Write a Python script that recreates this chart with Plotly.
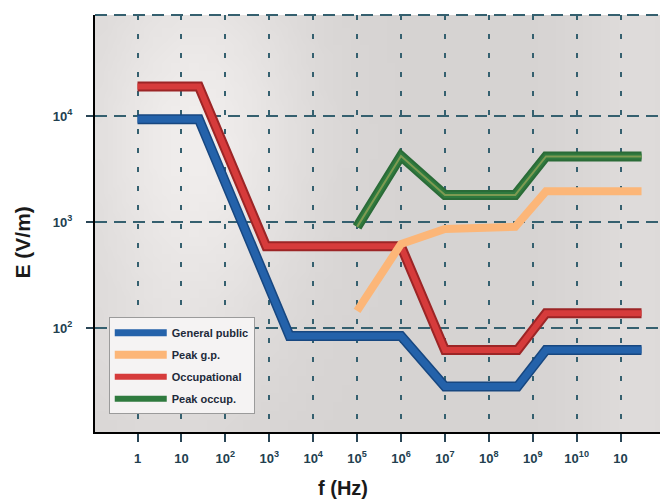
import base64, math, struct, zlib
import plotly.graph_objects as go

# ---------------- data ----------------
freq_gp = [1, 25, 2900, 1e6, 1e7, 4.5e8, 2e9, 3e11]
e_gp = [9300, 9300, 84, 84, 28, 28, 62, 62]

freq_occ = [1, 25, 850, 1e6, 1e7, 4.5e8, 2e9, 3e11]
e_occ = [19000, 19000, 590, 590, 62, 62, 138, 138]

freq_peak_gp = [1e5, 1e6, 1e7, 4e8, 2e9, 3e11]
e_peak_gp = [145, 620, 860, 900, 1950, 1950]

freq_peak_occ = [1e5, 1e6, 1e7, 4e8, 2e9, 3e11]
e_peak_occ = [900, 4200, 1800, 1800, 4150, 4150]

x_tickvals = [1e0, 1e1, 1e2, 1e3, 1e4, 1e5, 1e6, 1e7, 1e8, 1e9, 1e10, 1e11, 1e12]
x_ticktext = ["1", "10", "10<sup>2</sup>", "10<sup>3</sup>", "10<sup>4</sup>", "10<sup>5</sup>",
              "10<sup>6</sup>", "10<sup>7</sup>", "10<sup>8</sup>", "10<sup>9</sup>",
              "10<sup>10</sup>", "10", ""]
y_tickvals = [1e2, 1e3, 1e4]
y_ticktext = ["10<sup>2</sup>", "10<sup>3</sup>", "10<sup>4</sup>"]

# ---------------- background texture (soft grey gradient) ----------------
def make_png(w, h, fn):
    rows = []
    for j in range(h):
        row = bytearray([0])
        for i in range(w):
            row.extend(fn(i / (w - 1), j / (h - 1)))
        rows.append(bytes(row))
    raw = b"".join(rows)

    def chunk(t, d):
        return struct.pack(">I", len(d)) + t + d + struct.pack(">I", zlib.crc32(t + d) & 0xffffffff)

    return (b"\x89PNG\r\n\x1a\n" + chunk(b"IHDR", struct.pack(">IIBBBBB", w, h, 8, 2, 0, 0, 0))
            + chunk(b"IDAT", zlib.compress(raw)) + chunk(b"IEND", b""))


def bg(u, v):
    b = 211
    b += 27 * math.exp(-(((u - 0.17) / 0.2) ** 2 + ((v - 0.3) / 0.5) ** 2))
    b += 9 * math.exp(-(((u - 0.95) / 0.12) ** 2))
    b += 6 * math.exp(-(((u - 0.1) / 0.15) ** 2 + ((v - 0.85) / 0.2) ** 2))
    b = min(b, 242)
    return (int(min(255, b + 3)), int(b), int(b - 1))


png_uri = "data:image/png;base64," + base64.b64encode(make_png(64, 48, bg)).decode()

# ---------------- figure ----------------
FONT = "Liberation Sans, Arial, sans-serif"
fig = go.Figure()


def add_band(x, y, name, outer, inner, w_out, w_in, rank):
    fig.add_trace(go.Scatter(x=x, y=y, mode="lines", showlegend=False, hoverinfo="skip",
                             line=dict(color=outer, width=w_out)))
    fig.add_trace(go.Scatter(x=x, y=y, mode="lines", name=name, legendrank=rank,
                             legendgroup=name, line=dict(color=inner, width=w_in)))


add_band(freq_gp, e_gp, "General public", "#174780", "#2462aa", 10, 7, 1)
add_band(freq_occ, e_occ, "Occupational", "#9c2526", "#d63b3b", 10, 6, 3)
fig.add_trace(go.Scatter(x=freq_peak_gp, y=e_peak_gp, mode="lines", name="Peak g.p.",
                         legendrank=2, legendgroup="Peak g.p.",
                         line=dict(color="#fcb678", width=8)))
fig.add_trace(go.Scatter(x=freq_peak_occ, y=e_peak_occ, mode="lines", showlegend=False,
                         hoverinfo="skip", line=dict(color="#2a6b37", width=10)))
fig.add_trace(go.Scatter(x=freq_peak_occ, y=e_peak_occ, mode="lines", name="Peak occup.",
                         legendrank=4, legendgroup="Peak occup.",
                         line=dict(color="#2f7a3e", width=6)))
fig.add_trace(go.Scatter(x=freq_peak_occ, y=e_peak_occ, mode="lines", showlegend=False,
                         hoverinfo="skip", line=dict(color="#7d9a52", width=2)))

GRID = "#35606f"
# the page body adds an 8 px offset, so the figure is 8 px smaller than the window
fig.update_layout(
    width=660, height=493,
    margin=dict(l=87, r=0, t=7, b=69),
    paper_bgcolor="white",
    plot_bgcolor="rgba(0,0,0,0)",
    font=dict(family=FONT, color="#1f3848"),
    images=[dict(source=png_uri, xref="paper", yref="paper", x=0, y=1, sizex=1, sizey=1,
                 xanchor="left", yanchor="top", sizing="stretch", layer="below")],
    xaxis=dict(type="log", range=[-0.968, 12.08], tickmode="array", tickvals=x_tickvals,
               ticktext=x_ticktext, showgrid=True, gridcolor=GRID, gridwidth=2,
               griddash="5px,14px", showline=True, linecolor="black", linewidth=2,
               ticks="outside", ticklen=8, tickwidth=2, tickcolor="#2a4656",
               ticklabelstandoff=5,
               tickfont=dict(size=13, family=FONT, color="#22404f", weight="bold"),
               zeroline=False),
    yaxis=dict(type="log", range=[1.019, 4.953], tickmode="array", tickvals=y_tickvals,
               ticktext=y_ticktext, showgrid=True, gridcolor=GRID, gridwidth=2,
               griddash="12px,7px", showline=True, linecolor="black", linewidth=2,
               ticks="outside", ticklen=7, tickwidth=2, tickcolor="#2a4656",
               ticklabelstandoff=11,
               tickfont=dict(size=13, family=FONT, color="#22404f", weight="bold"),
               zeroline=False),
    legend=dict(x=0.024, y=0.275, xanchor="left", yanchor="top",
                bgcolor="#f5f3f3", bordercolor="#9b9b9b", borderwidth=1,
                font=dict(size=11, family=FONT, color="#1d2a3a", weight="bold"),
                itemwidth=52, tracegroupgap=3, traceorder="grouped"),
    shapes=[dict(type="line", xref="paper", yref="paper", x0=0, x1=1, y0=1, y1=1,
                 line=dict(color=GRID, width=2, dash="12px,7px"), layer="below")],
    annotations=[
        dict(text="<b>E (V/m)</b>", xref="paper", yref="paper", x=-0.127, y=0.455,
             textangle=-90, showarrow=False, xanchor="center", yanchor="middle",
             font=dict(size=21, family=FONT, color="#1a1a1a")),
        dict(text="<b>f (Hz)</b>", xref="paper", yref="paper", x=0.432, y=-0.134,
             showarrow=False, xanchor="center", yanchor="middle",
             font=dict(size=20, family=FONT, color="#1a1a1a")),
    ],
)

fig.write_html("out.html")
